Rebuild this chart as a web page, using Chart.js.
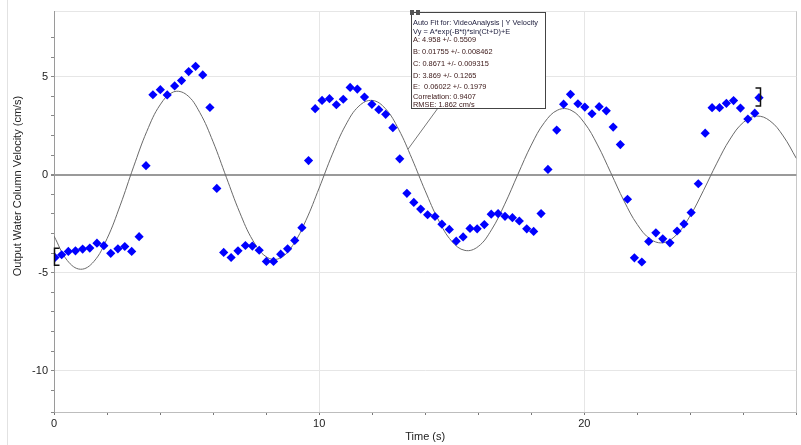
<!DOCTYPE html>
<html>
<head>
<meta charset="utf-8">
<script src="https://cdn.jsdelivr.net/npm/chart.js@4/dist/chart.umd.min.js"></script>
<style>
  html, body { margin: 0; padding: 0; background: #fff; }
  #wrap      { width: 801px; height: 445px; position: relative; }
</style>
</head>
<body>
<div id="wrap"><canvas id="chartVelocity" width="801" height="445"></canvas></div>
<script>
// measured points (blue diamonds)
const TIME_S = [
  0.04, 0.29, 0.54, 0.81, 1.08, 1.35, 1.62, 1.88, 2.14, 2.41, 2.67, 2.93, 3.21, 3.47, 3.73, 4.01, 4.27, 4.55,
  4.81, 5.08, 5.34, 5.61, 5.88, 6.14, 6.40, 6.68, 6.94, 7.22, 7.48, 7.74, 8.01, 8.28, 8.55, 8.81, 9.08,
  9.35, 9.60, 9.85, 10.11, 10.39, 10.65, 10.91, 11.17, 11.44, 11.71, 11.99, 12.25, 12.51, 12.78, 13.04, 13.31,
  13.57, 13.83, 14.09, 14.37, 14.63, 14.91, 15.17, 15.43, 15.69, 15.96, 16.23, 16.49, 16.75, 17.01, 17.29,
  17.55, 17.83, 18.09, 18.37, 18.63,
  18.96, 19.22, 19.48, 19.76, 20.02, 20.29, 20.56, 20.83, 21.09, 21.36, 21.63, 21.89, 22.17, 22.43, 22.70,
  22.96, 23.23, 23.50, 23.76, 24.03, 24.30, 24.56, 24.82, 25.10, 25.36, 25.63, 25.89, 26.17, 26.43, 26.59
];
const VELOCITY = [
  -4.22, -4.08, -3.91, -3.88, -3.79, -3.74, -3.49, -3.62, -4.01, -3.78, -3.66, -3.91, -3.16, 0.46, 4.08, 4.34, 4.07, 4.53,
  4.80, 5.26, 5.53, 5.09, 3.43, -0.70, -3.96, -4.22, -3.88, -3.61, -3.64, -3.85, -4.42, -4.42, -4.05, -3.78, -3.35,
  -2.70, 0.72, 3.37, 3.79, 3.88, 3.57, 3.85, 4.45, 4.37, 3.96, 3.59, 3.32, 3.08, 2.40, 0.81, -0.95,
  -1.41, -1.75, -2.04, -2.13, -2.52, -2.79, -3.39, -3.17, -2.74, -2.76, -2.54, -2.01, -1.98, -2.12, -2.19,
  -2.36, -2.76, -2.89, -1.98, 0.27,
  2.28, 3.60, 4.10, 3.62, 3.45, 3.11, 3.47, 3.26, 2.43, 1.54, -1.25, -4.24, -4.45, -3.40, -2.96,
  -3.27, -3.47, -2.87, -2.51, -1.93, -0.46, 2.12, 3.42, 3.42, 3.64, 3.78, 3.40, 2.84, 3.14, 3.93
];

// fit curve, every 0.5 s
const FIT_T = [
  0, 0.5, 1, 1.5, 2, 2.5, 3, 3.5, 4, 4.5, 5, 5.5, 6, 6.5, 7, 7.5, 8, 8.5, 9, 9.5, 10, 10.5, 11, 11.5, 12, 12.5, 13, 13.5,
  14, 14.5, 15, 15.5, 16, 16.5, 17, 17.5, 18, 18.5, 19, 19.5, 20, 20.5, 21, 21.5, 22, 22.5, 23, 23.5, 24, 24.5, 25, 25.5,
  26, 26.5, 27, 27.5, 28
];
const FIT_V = [
  -3.13, -4.37, -4.82, -4.43, -3.26, -1.55, 0.40, 2.21, 3.56, 4.22, 4.08, 3.17, 1.68, -0.13, -1.91, -3.35, -4.18, -4.27,
  -3.61, -2.33, -0.68, 1.05, 2.53, 3.50, 3.79, 3.37, 2.31, 0.82, -0.82, -2.31, -3.39, -3.86, -3.66, -2.81, -1.50, 0.03,
  1.51, 2.67, 3.30, 3.29, 2.65, 1.52, 0.10, -1.34, -2.54, -3.29, -3.46, -3.03, -2.08, -0.79, 0.59, 1.82, 2.67, 2.99,
  2.75, 1.98, 0.83
];

const X_LABELS = [0, 10, 20];
const Y_LABELS = [-10, -5, 0, 5];

const FIT_TEXT = [
  'Auto Fit for: VideoAnalysis | Y Velocity',
  'Vy = A*exp(-B*t)*sin(Ct+D)+E',
  'A: 4.958 +/- 0.5509',
  'B: 0.01755 +/- 0.008462',
  'C: 0.8671 +/- 0.009315',
  'D: 3.869 +/- 0.1265',
  'E:  0.06022 +/- 0.1979',
  'Correlation: 0.9407',
  'RMSE: 1.862 cm/s',
];

// examine-cursor brackets at both ends of the selection
const BRACKET_START = { t: 0,     top: -3.75, bottom: -4.62 };
const BRACKET_END   = { t: 26.62, top: 4.42,  bottom: 3.50 };
const LEADER_POINT  = { t: 13.35, v: 1.30 };

const FONT = '"Liberation Sans", Arial, sans-serif';

const overlayPlugin = {
  id: 'overlay',
  afterDatasetsDraw(chart) {
    const { ctx, scales: { x, y } } = chart;
    ctx.save();

    // brackets
    ctx.strokeStyle = '#111';
    ctx.lineWidth   = 1.5;
    const bracket = (b, dir) => {
      const px = Math.round(x.getPixelForValue(b.t)) + 0.5;
      const y1 = y.getPixelForValue(b.top);
      const y2 = y.getPixelForValue(b.bottom);
      ctx.beginPath();
      ctx.moveTo(px + dir * 5, y1);
      ctx.lineTo(px, y1);
      ctx.lineTo(px, y2);
      ctx.lineTo(px + dir * 5, y2);
      ctx.stroke();
    };
    bracket(BRACKET_START, 1);
    bracket(BRACKET_END, -1);

    // leader from curve to the fit box
    ctx.strokeStyle = '#777';
    ctx.lineWidth   = 1;
    ctx.beginPath();
    ctx.moveTo(x.getPixelForValue(LEADER_POINT.t), y.getPixelForValue(LEADER_POINT.v));
    ctx.lineTo(438, 108);
    ctx.stroke();
    ctx.restore();
  },
  afterDraw(chart) {
    const { ctx, chartArea } = chart;
    ctx.save();

    // panel edge
    ctx.strokeStyle = '#e2e2e2';
    ctx.beginPath(); ctx.moveTo(7.5, 0); ctx.lineTo(7.5, 445); ctx.stroke();

    // fit box
    ctx.fillStyle   = '#fff';
    ctx.fillRect(411, 12, 134, 96);
    ctx.strokeStyle = '#444';
    ctx.lineWidth   = 1;
    ctx.strokeRect(411.5, 12.5, 134, 96);
    ctx.fillStyle = '#555';
    ctx.fillRect(410, 10, 4, 5);
    ctx.fillRect(416, 10, 4, 5);

    const lineY = [23.3, 31.5, 40, 52, 64, 75.5, 87.3, 96.8, 105];
    ctx.font         = `7.4px ${FONT}`;
    ctx.textBaseline = 'middle';
    ctx.textAlign    = 'left';
    FIT_TEXT.forEach((t, i) => {
      ctx.fillStyle = i < 2 ? '#1c1c3c' : '#3a1616';
      ctx.fillText(t, 413, lineY[i]);
    });

    // axis titles
    ctx.fillStyle    = '#222';
    ctx.font         = `11px ${FONT}`;
    ctx.textAlign    = 'center';
    ctx.textBaseline = 'middle';
    ctx.fillText('Time (s)', (chartArea.left + chartArea.right) / 2, 437);
    ctx.translate(18, 186);
    ctx.rotate(-Math.PI / 2);
    ctx.fillText('Output Water Column Velocity (cm/s)', 0, 0);
    ctx.restore();
  },
};

const chart = new Chart(document.getElementById('chartVelocity').getContext('2d'), {
  data: {
    datasets: [
      {
        type: 'scatter',
        data: TIME_S.map((t, i) => ({ x: t, y: VELOCITY[i] })),
        pointStyle: 'rectRot', pointRadius: 4.6, pointHoverRadius: 4.6,
        backgroundColor: '#0000ff', borderColor: '#0000ff', borderWidth: 0,
      },
      {
        type: 'line',
        data: FIT_T.map((t, i) => ({ x: t, y: FIT_V[i] })),
        borderColor: '#6a6a6a', borderWidth: 1, pointRadius: 0, tension: 0.4, fill: false,
      },
    ],
  },
  options: {
    responsive: false, animation: false, devicePixelRatio: 1,
    layout: { padding: { left: 0, right: 3, top: 11, bottom: 0 } },
    plugins: { legend: { display: false }, tooltip: { enabled: false } },
    scales: {
      x: {
        type: 'linear', min: 0, max: 28,
        afterFit: s => { s.height = 33; },
        border: { color: '#bdbdbd' },
        grid: {
          color: c => (c.tick && X_LABELS.includes(c.tick.value) && c.tick.value !== 0) ? '#e6e6e6'
                    : (c.tick && c.tick.value === 28) ? '#c8c8c8' : 'rgba(0,0,0,0)',
          tickColor: '#777', tickLength: 3,
        },
        ticks: {
          stepSize: 2, autoSkip: false, maxRotation: 0, padding: 2,
          color: '#222', font: { family: FONT, size: 11 },
          callback: v => X_LABELS.includes(v) ? String(v) : '',
        },
      },
      y: {
        type: 'linear', min: -12.1, max: 8.35,
        afterFit: s => { s.width = 54; },
        border: { color: '#9a9a9a' },
        grid: {
          color: c => !c.tick ? 'rgba(0,0,0,0)'
                    : c.tick.value === 0 ? '#9a9a9a'
                    : (Y_LABELS.includes(c.tick.value) || c.tick.value === 8.35) ? '#e6e6e6' : 'rgba(0,0,0,0)',
          lineWidth: c => (c.tick && c.tick.value === 0) ? 2 : 1,
          tickColor: c => (c.tick && c.tick.value === 8.35) ? 'rgba(0,0,0,0)' : '#888', tickLength: 3,
        },
        ticks: {
          stepSize: 1, autoSkip: false, padding: 3,
          color: '#222', font: { family: FONT, size: 11 },
          callback: v => Y_LABELS.includes(v) ? String(v) : '',
        },
      },
    },
  },
  plugins: [overlayPlugin],
});
</script>
</body>
</html>
